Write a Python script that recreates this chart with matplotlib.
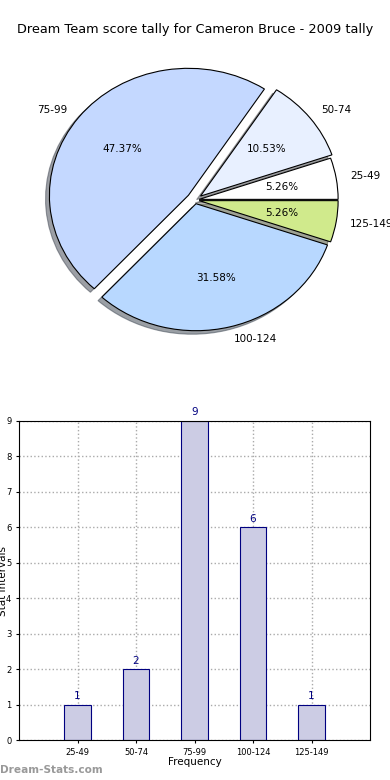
import matplotlib
matplotlib.use("Agg")
import matplotlib.pyplot as plt

labels = ["25-49", "50-74", "75-99", "100-124", "125-149"]
counts = [1, 2, 9, 6, 1]
pie_colors = ["#ffffff", "#e8f0ff", "#c4d8ff", "#b8d8ff", "#d0ea8c"]
explode = [0.03, 0.05, 0.06, 0.03, 0.03]

fig = plt.figure(figsize=(3.9, 7.8), dpi=100)
fig.text(0.5, 1 - 30 / 780, "Dream Team score tally for Cameron Bruce - 2009 tally",
         ha="center", va="center", fontsize=9.25)

ax1 = fig.add_axes([0, 1 - (200 + 195) / 780, 1, 390 / 780])
ax1.pie(counts, labels=labels, colors=pie_colors, explode=explode, autopct="%.2f%%",
        shadow=True, startangle=0, counterclock=True,
        wedgeprops=dict(edgecolor="black", linewidth=0.8),
        textprops=dict(fontsize=7.5))
ax1.set_aspect("auto")
ax1.set_xlim(-195 / 139, 195 / 139)
ax1.set_ylim(-195 / 127, 195 / 127)
ax1.axis("off")

ax2 = fig.add_axes([19 / 390, 1 - 740 / 780, 351 / 390, 319 / 780])
x = list(range(len(labels)))
ax2.bar(x, counts, width=0.45, color="#ccccE4", edgecolor="#000080", linewidth=0.8, zorder=2)
for xi, c in zip(x, counts):
    ax2.text(xi, c + 0.1, str(c), ha="center", va="bottom", color="#000080", fontsize=7.5)
ax2.set_xlim(-1, 5)
ax2.set_ylim(0, 9)
ax2.set_xticks(x)
ax2.set_xticklabels(labels)
ax2.set_yticks(range(10))
ax2.tick_params(labelsize=6, length=2)
ax2.grid(True, linestyle=":", color="#aaaaaa", linewidth=1, zorder=0)
ax2.set_axisbelow(True)
ax2.set_xlabel("Frequency", fontsize=7.5, labelpad=0)
ax2.set_ylabel("Stat Intervals", fontsize=7.5)
ax2.yaxis.set_label_coords(-0.031, 0.5)

fig.text(0.0, 1 - 770 / 780, "Dream-Stats.com", ha="left", va="center",
         fontsize=7.6, fontweight="bold", color="#999999")

fig.savefig("out.png", dpi=100)
